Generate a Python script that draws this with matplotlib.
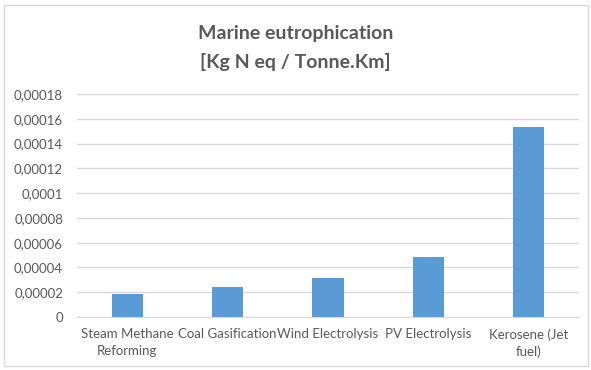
import matplotlib.pyplot as plt
import matplotlib.ticker as ticker
from matplotlib.patches import Rectangle

# values per production route
categories = ['Steam Methane\nReforming', 'Coal Gasification', 'Wind Electrolysis',
              'PV Electrolysis', 'Kerosene (Jet\nfuel)']
values = [0.0000183, 0.0000240, 0.0000312, 0.0000482, 0.0001536]
yticks = [0, 0.00002, 0.00004, 0.00006, 0.00008, 0.0001, 0.00012, 0.00014, 0.00016, 0.00018]

plt.rcParams['font.family'] = ['Lato', 'DejaVu Sans']
txt = '#595959'


def comma_fmt(v, pos):
    # decimal comma, no trailing zeros
    s = ('%.5f' % v).rstrip('0').rstrip('.')
    return s.replace('.', ',')


fig = plt.figure(figsize=(5.91, 3.70), dpi=100)
ax = fig.add_axes([77/591, 1 - 317/370, (579 - 77)/591, (317 - 94)/370])

# light border round the whole chart
fig.patches.append(Rectangle((4/591, 4/370), 584/591, 361/370, transform=fig.transFigure,
                             fill=False, edgecolor='#d9d9d9', linewidth=1))

x = range(len(categories))
ax.bar(x, values, width=0.31, color='#5b9bd5', zorder=3)

ax.set_xlim(-0.5, len(categories) - 0.5)
ax.set_ylim(0, 0.00018)
ax.set_yticks(yticks)
ax.yaxis.set_major_formatter(ticker.FuncFormatter(comma_fmt))
ax.set_xticks(list(x))
ax.set_xticklabels(categories, color=txt, fontsize=9.5, linespacing=1.45)
ax.tick_params(axis='y', colors=txt, labelsize=9.5, length=0, pad=10)
ax.tick_params(axis='x', length=0, pad=8)
ax.grid(axis='y', color='#d9d9d9', linewidth=1, zorder=0)
for s in ['top', 'right', 'left']:
    ax.spines[s].set_visible(False)
ax.spines['bottom'].set_color('#d9d9d9')

fig.text(0.5, 1 - 33/370, 'Marine eutrophication', ha='center', va='center',
         fontsize=14, fontweight='bold', color=txt)
fig.text(0.5, 1 - 62/370, '[Kg N eq / Tonne.Km]', ha='center', va='center',
         fontsize=14, fontweight='bold', color=txt)

fig.savefig('out.png', dpi=100)
